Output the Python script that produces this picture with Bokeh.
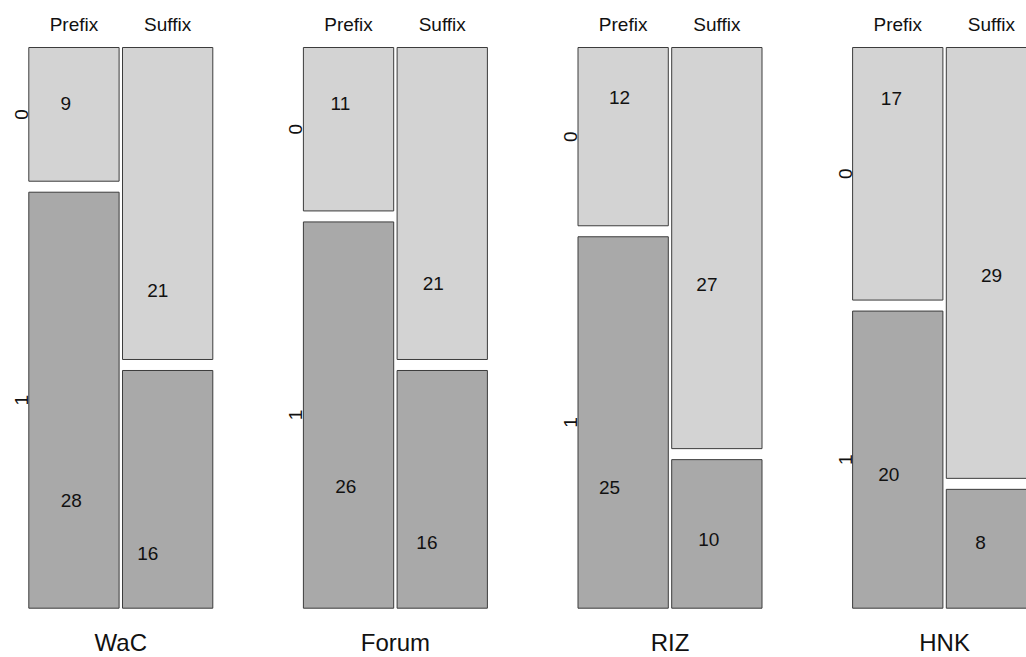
import math
from bokeh.plotting import figure
from bokeh.models import Range1d, ColumnDataSource
from bokeh.core.properties import value
from bokeh.embed import file_html
from bokeh.resources import INLINE

# ---------------- data ----------------
corpora = ["WaC", "Forum", "RIZ", "HNK"]
affix_types = ["Prefix", "Suffix"]
outcome_levels = ["0", "1"]

prefix_0 = [9, 11, 12, 17]
prefix_1 = [28, 26, 25, 20]
suffix_0 = [21, 21, 27, 29]
suffix_1 = [16, 16, 10, 8]

# where each count label sits inside its cell (fraction of width / height),
# order per corpus: Prefix-0, Prefix-1, Suffix-0, Suffix-1
label_fx = [[0.41, 0.47, 0.39, 0.28],
            [0.41, 0.47, 0.40, 0.33],
            [0.46, 0.35, 0.39, 0.41],
            [0.43, 0.40, 0.50, 0.38]]
label_fy = [[0.42, 0.74, 0.78, 0.77],
            [0.345, 0.684, 0.757, 0.724],
            [0.28, 0.674, 0.59, 0.54],
            [0.20, 0.55, 0.53, 0.45]]

# ---------------- layout ----------------
W_PX, H_PX = 1026, 657
PANEL_LEFT0 = 28.3
PITCH = 274.6
PANEL_W = 184.0
GAP_X = 3.4
TOP_Y = 47.0
BOT_Y = 607.7
GAP_Y = 11.0

LIGHT = "#D3D3D3"
DARK = "#A9A9A9"
EDGE = "#3C3C3C"
FONT = "Liberation Sans"

p = figure(width=W_PX, height=H_PX, output_backend="svg", toolbar_location=None,
           x_range=Range1d(0, W_PX), y_range=Range1d(H_PX, 0),
           min_border=0, min_border_left=0, min_border_right=0,
           min_border_top=0, min_border_bottom=0)
p.axis.visible = False
p.xgrid.visible = False
p.ygrid.visible = False
p.outline_line_color = None
p.background_fill_color = "white"
p.border_fill_color = "white"

rect = dict(left=[], right=[], top=[], bottom=[], color=[])
lab = dict(x=[], y=[], text=[])
top_lab = dict(x=[], y=[], text=[])
ylab = dict(x=[], y=[], text=[])
title_lab = dict(x=[], y=[], text=[])

for i, corpus in enumerate(corpora):
    left0 = PANEL_LEFT0 + i * PITCH
    cols = [[prefix_0[i], prefix_1[i]], [suffix_0[i], suffix_1[i]]]
    totals = [sum(c) for c in cols]
    grand = sum(totals)
    x = left0
    for j, (aff, col) in enumerate(zip(affix_types, cols)):
        cw = (PANEL_W - GAP_X * (len(cols) - 1)) * totals[j] / grand
        y = TOP_Y
        for k, cnt in enumerate(col):
            ch = (BOT_Y - TOP_Y - GAP_Y * (len(col) - 1)) * cnt / totals[j]
            rect["left"].append(x)
            rect["right"].append(x + cw)
            rect["top"].append(y)
            rect["bottom"].append(y + ch)
            rect["color"].append(LIGHT if k == 0 else DARK)
            idx = j * 2 + k
            lab["x"].append(x + cw * label_fx[i][idx])
            lab["y"].append(y + ch * label_fy[i][idx])
            lab["text"].append(str(cnt))
            if j == 0:
                ylab["x"].append(x - 7.5)
                ylab["y"].append(y + ch / 2)
                ylab["text"].append(outcome_levels[k])
            y += ch + GAP_Y
        top_lab["x"].append(x + cw / 2)
        top_lab["y"].append(24)
        top_lab["text"].append(aff)
        x += cw + GAP_X
    title_lab["x"].append(left0 + PANEL_W / 2)
    title_lab["y"].append(642)
    title_lab["text"].append(corpus)

p.quad(left="left", right="right", top="top", bottom="bottom",
       fill_color="color", line_color=EDGE, line_width=1,
       source=ColumnDataSource(rect))

common = dict(text_font=value(FONT), text_color="#111111",
              text_align="center", text_baseline="middle")
p.text(x="x", y="y", text="text", source=ColumnDataSource(lab),
       text_font_size="19px", **common)
p.text(x="x", y="y", text="text", source=ColumnDataSource(top_lab),
       text_font_size="19px", **common)
p.text(x="x", y="y", text="text", source=ColumnDataSource(ylab),
       text_font_size="19px", angle=math.pi / 2, **common)
p.text(x="x", y="y", text="text", source=ColumnDataSource(title_lab),
       text_font_size="24px", **common)

open("out.html", "w").write(file_html(p, INLINE))
